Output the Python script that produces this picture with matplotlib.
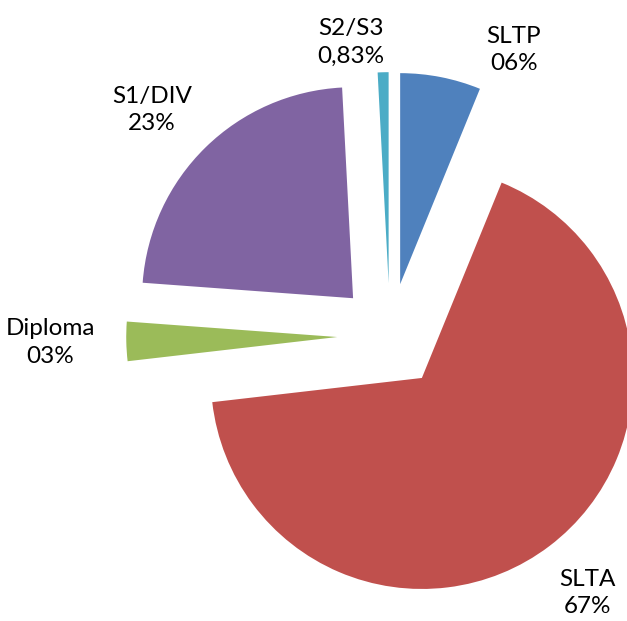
import matplotlib.pyplot as plt
import matplotlib

matplotlib.rcParams['font.family'] = ['Lato', 'DejaVu Sans']

# data
categories = ['SLTP', 'SLTA', 'Diploma', 'S1/DIV', 'S2/S3']
shares = [6.17, 67.0, 3.0, 23.0, 0.83]
pct_labels = ['06%', '67%', '03%', '23%', '0,83%']
colors = ['#4F81BD', '#C0504D', '#9BBB59', '#8064A2', '#4BACC6']

# label centres (data units, pie radius = 1)
label_pos = [(0.586, 1.355), (0.938, -1.218), (-1.611, -0.033), (-1.128, 1.071), (-0.185, 1.393)]

fig = plt.figure(figsize=(6.27, 6.21), dpi=100)
ax = fig.add_axes([0, 0, 1, 1])
ax.pie(shares, colors=colors, startangle=90, counterclock=False,
       explode=[0.25] * len(shares), radius=1.0,
       wedgeprops=dict(linewidth=0))

for name, pct, (x, y) in zip(categories, pct_labels, label_pos):
    ax.text(x, y, name + '\n' + pct, ha='center', va='center',
            fontsize=17.5, linespacing=1.4, color='black')

ax.set_xlim(-1.848, 1.123)
ax.set_ylim(-1.351, 1.592)
ax.set_aspect('equal')
ax.axis('off')
fig.savefig('out.png', dpi=100)
